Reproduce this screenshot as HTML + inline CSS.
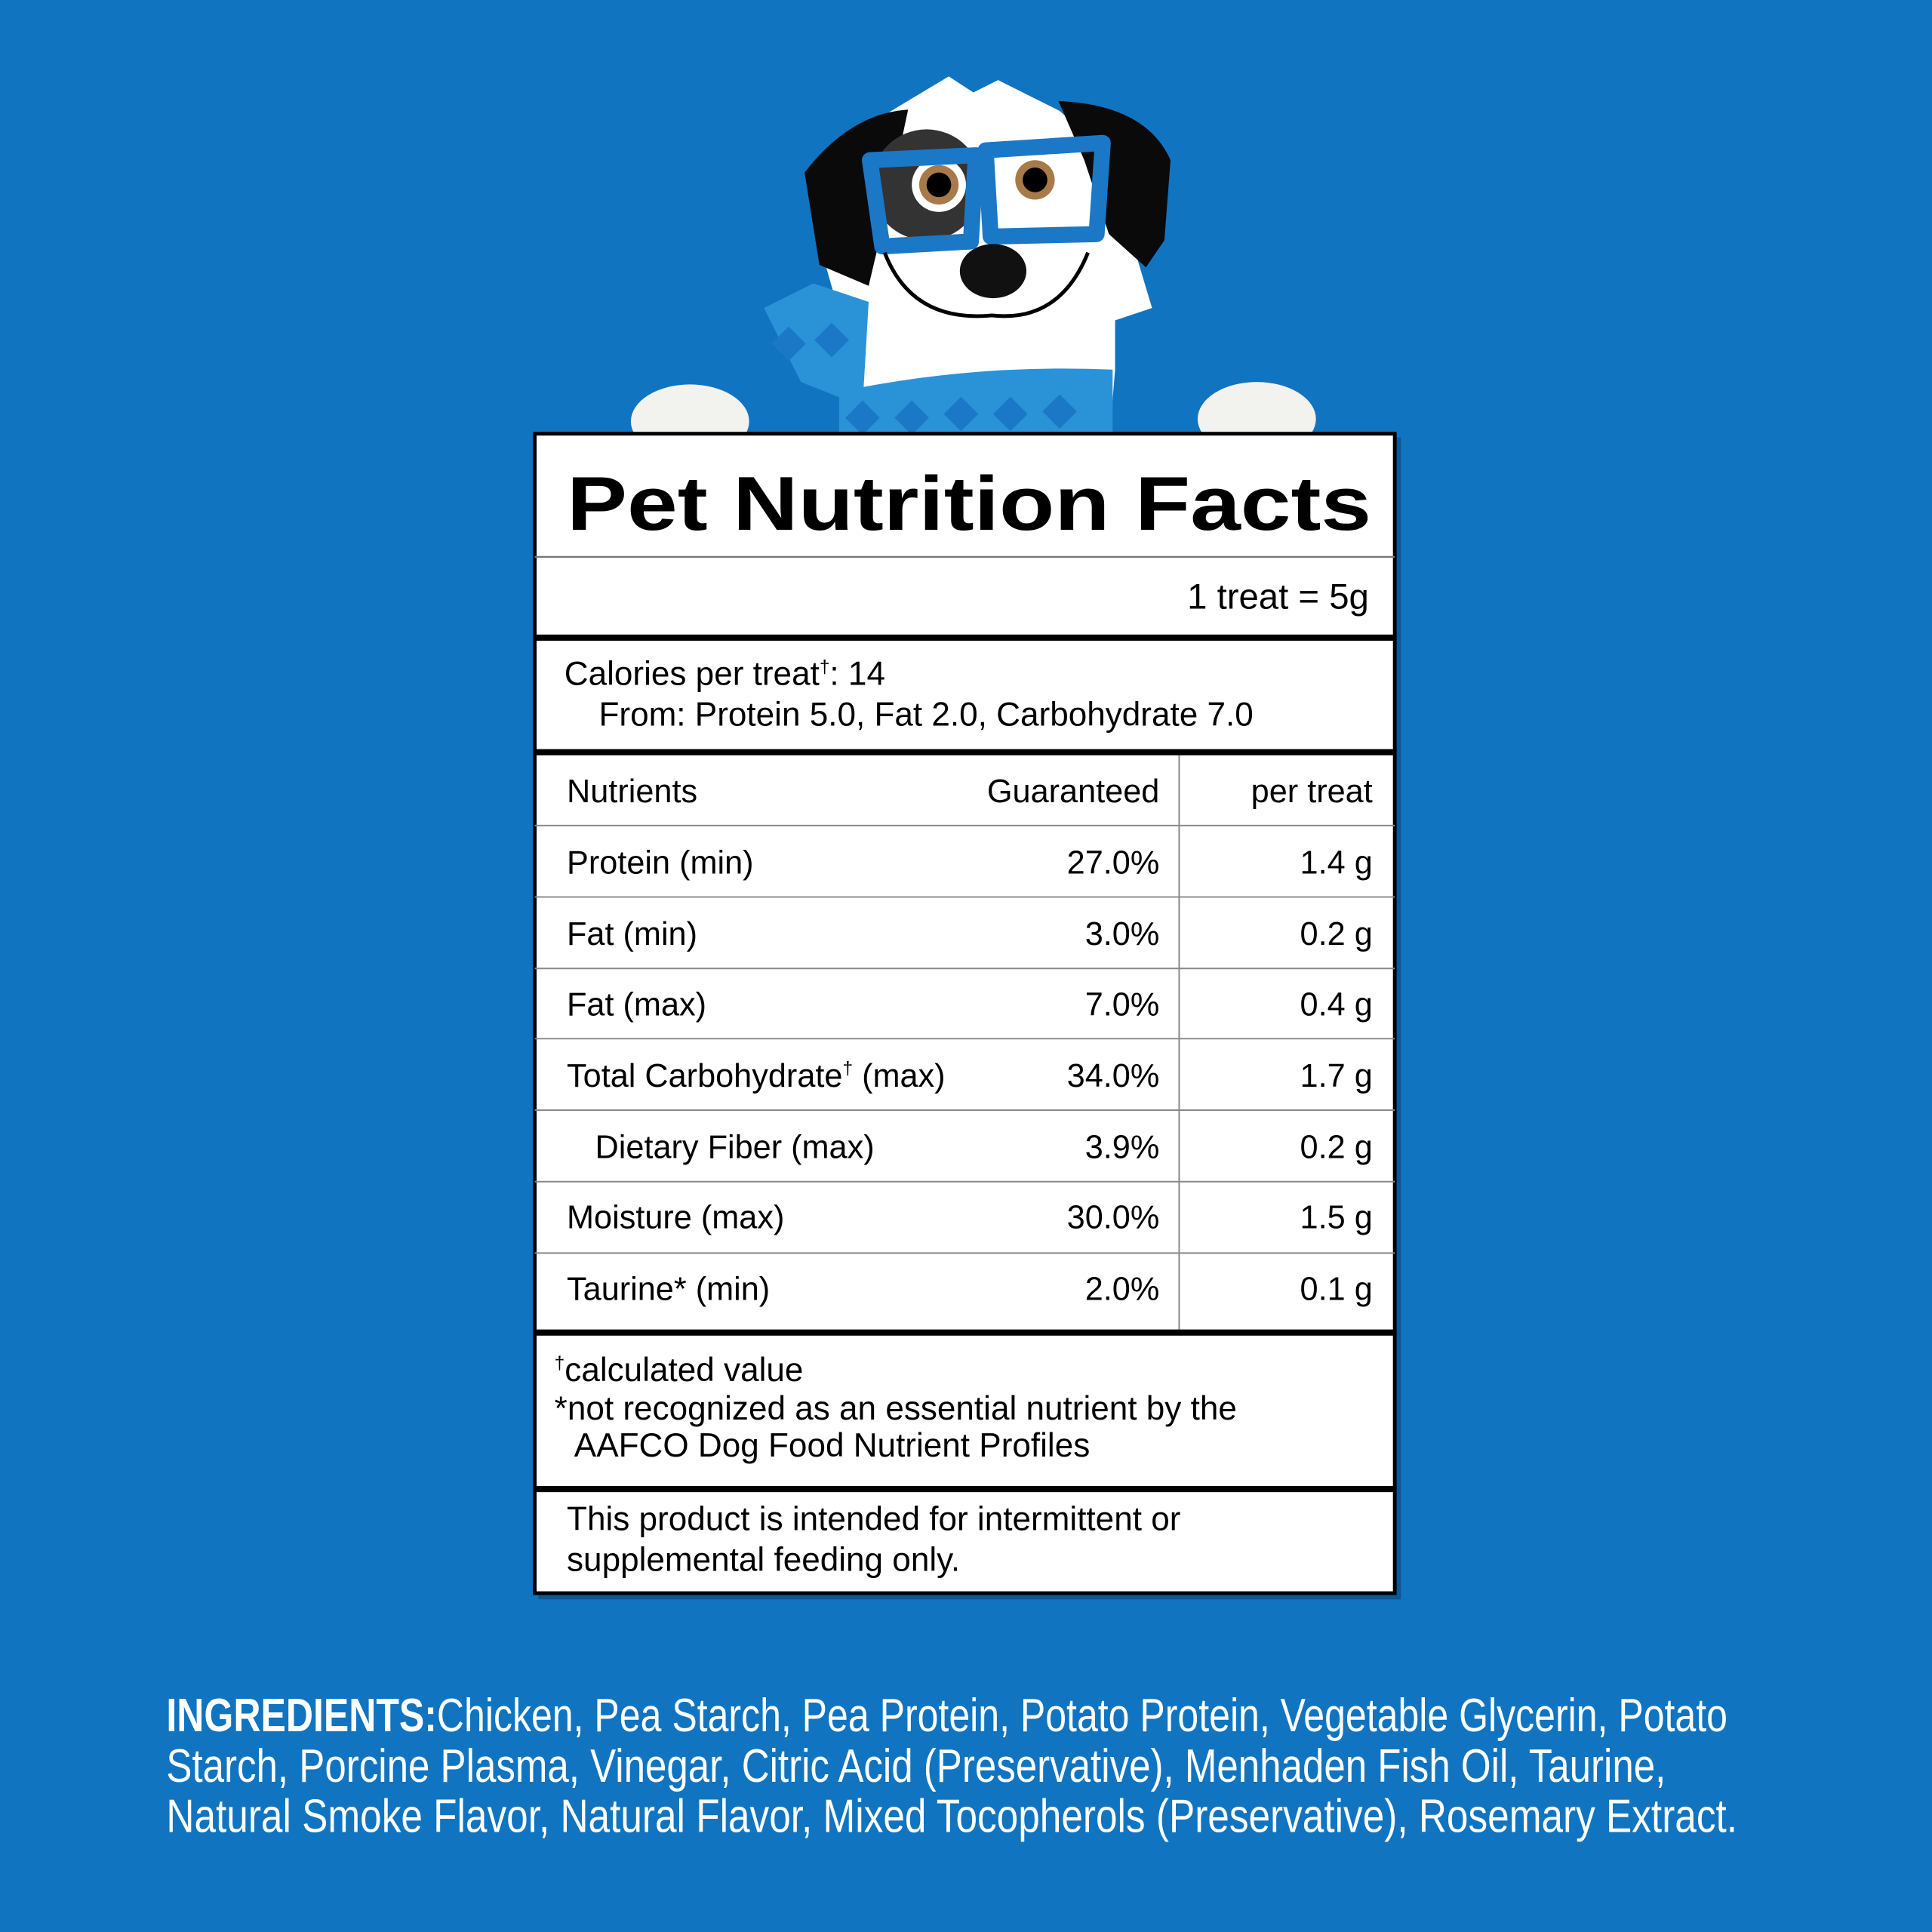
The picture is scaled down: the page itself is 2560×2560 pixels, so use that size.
<!DOCTYPE html>
<html><head><meta charset="utf-8"><style>
html,body{margin:0;padding:0;background:#1174c0;}
svg{display:block;}
text{font-family:"Liberation Sans",Arial,sans-serif;}
</style></head><body>
<svg width="2560" height="2560" viewBox="0 0 1568 1568" xmlns="http://www.w3.org/2000/svg">
<rect width="1568" height="1568" fill="#1174c0"/>
<g>
  <path d="M690 360 L680 250 L660 180 L690 110 L740 80 L770 62 L790 75 L810 65 L860 90 L905 130 L920 200 L935 250 L905 260 L905 300 L900 360 Z" fill="#ffffff"/>
  <path d="M653 140 Q690 92 737 89 L722 160 L705 232 L665 215 Z" fill="#0a0a0a"/>
  <path d="M859 82 Q930 85 950 130 L945 195 L930 217 L900 190 L880 130 Z" fill="#0a0a0a"/>
  <circle cx="752" cy="150" r="45" fill="#333"/>
  <path d="M620 250 L660 230 L705 245 L700 330 L650 310 Z" fill="#2a93d8"/>
  <path d="M681 318 Q790 295 903 300 L903 355 L681 355 Z" fill="#2a93d8"/>
  <g fill="#1a78c6">
    <path d="M700 325 l14 14 -14 14 -14 -14z M740 325 l14 14 -14 14 -14 -14z M780 322 l14 14 -14 14 -14 -14z M820 322 l14 14 -14 14 -14 -14z M860 320 l14 14 -14 14 -14 -14z M640 265 l14 14 -14 14 -14 -14z M675 262 l14 14 -14 14 -14 -14z"/>
  </g>
  <circle cx="762" cy="150" r="22" fill="#fff"/>
  <circle cx="840" cy="146" r="22" fill="#fff"/>
  <circle cx="762" cy="150" r="16" fill="#a87a4a"/>
  <circle cx="840" cy="146" r="16" fill="#a87a4a"/>
  <circle cx="762" cy="150" r="10" fill="#000"/>
  <circle cx="840" cy="146" r="10" fill="#000"/>
  <path d="M706 130 L792 126 L788 196 L716 200 Z" fill="none" stroke="#1a78c6" stroke-width="13" stroke-linejoin="round"/>
  <path d="M800 122 L895 116 L890 190 L804 192 Z" fill="none" stroke="#1a78c6" stroke-width="13" stroke-linejoin="round"/>
  <ellipse cx="806" cy="220" rx="27" ry="22" fill="#111"/>
  <path d="M718 205 Q740 262 805 256 Q860 262 883 205" stroke="#000" stroke-width="3" fill="none"/>
  <ellipse cx="560" cy="342" rx="48" ry="30" fill="#f2f2ee"/>
  <ellipse cx="1020" cy="340" rx="48" ry="30" fill="#f2f2ee"/>
</g>
<rect x="437" y="355" width="700" height="943" fill="#0a3a66" opacity="0.5"/>
<rect x="434" y="352" width="698" height="941" fill="#fff" stroke="#000" stroke-width="3"/>
<text x="460" y="430" font-size="62" font-weight="bold" textLength="653" lengthAdjust="spacingAndGlyphs">Pet Nutrition Facts</text>
<line x1="434" y1="452" x2="1132" y2="452" stroke="#777" stroke-width="1.5"/>
<text x="1111" y="494" font-size="29" text-anchor="end">1 treat = 5g</text>
<rect x="434" y="515" width="698" height="5" fill="#000"/>
<g font-size="27">
<text x="458" y="556">Calories per treat<tspan font-size="15" dy="-10">†</tspan><tspan dy="10">: 14</tspan></text>
<text x="486" y="589">From: Protein 5.0, Fat 2.0, Carbohydrate 7.0</text>
</g>
<rect x="434" y="608" width="698" height="5" fill="#000"/>
<g font-size="26.5">
<text x="460" y="651">Nutrients</text><text x="941" y="651" text-anchor="end">Guaranteed</text><text x="1114" y="651" text-anchor="end">per treat</text>
<text x="460" y="709">Protein (min)</text><text x="941" y="709" text-anchor="end">27.0%</text><text x="1114" y="709" text-anchor="end">1.4 g</text>
<text x="460" y="767">Fat (min)</text><text x="941" y="767" text-anchor="end">3.0%</text><text x="1114" y="767" text-anchor="end">0.2 g</text>
<text x="460" y="824">Fat (max)</text><text x="941" y="824" text-anchor="end">7.0%</text><text x="1114" y="824" text-anchor="end">0.4 g</text>
<text x="460" y="882">Total Carbohydrate<tspan font-size="15" dy="-10">†</tspan><tspan dy="10"> (max)</tspan></text><text x="941" y="882" text-anchor="end">34.0%</text><text x="1114" y="882" text-anchor="end">1.7 g</text>
<text x="483" y="940">Dietary Fiber (max)</text><text x="941" y="940" text-anchor="end">3.9%</text><text x="1114" y="940" text-anchor="end">0.2 g</text>
<text x="460" y="997">Moisture (max)</text><text x="941" y="997" text-anchor="end">30.0%</text><text x="1114" y="997" text-anchor="end">1.5 g</text>
<text x="460" y="1055">Taurine* (min)</text><text x="941" y="1055" text-anchor="end">2.0%</text><text x="1114" y="1055" text-anchor="end">0.1 g</text>
</g>
<g stroke="#888" stroke-width="1.2">
<line x1="434" y1="670" x2="1132" y2="670"/><line x1="434" y1="728" x2="1132" y2="728"/>
<line x1="434" y1="786" x2="1132" y2="786"/><line x1="434" y1="843" x2="1132" y2="843"/>
<line x1="434" y1="901" x2="1132" y2="901"/><line x1="434" y1="959" x2="1132" y2="959"/>
<line x1="434" y1="1017" x2="1132" y2="1017"/><line x1="957" y1="613" x2="957" y2="1080"/>
</g>
<rect x="434" y="1079" width="698" height="5" fill="#000"/>
<g font-size="27">
<text x="450" y="1121"><tspan font-size="15" dy="-10">†</tspan><tspan dy="10">calculated value</tspan></text>
<text x="450" y="1152">*not recognized as an essential nutrient by the</text>
<text x="466" y="1182">AAFCO Dog Food Nutrient Profiles</text>
<text x="460" y="1242">This product is intended for intermittent or</text>
<text x="460" y="1275">supplemental feeding only.</text>
</g>
<rect x="434" y="1206" width="698" height="5" fill="#000"/>
<g fill="#fff" font-size="38">
<text x="135" y="1405" textLength="1267" lengthAdjust="spacingAndGlyphs"><tspan font-weight="bold">INGREDIENTS:</tspan>Chicken, Pea Starch, Pea Protein, Potato Protein, Vegetable Glycerin, Potato</text>
<text x="135" y="1446" textLength="1217" lengthAdjust="spacingAndGlyphs">Starch, Porcine Plasma, Vinegar, Citric Acid (Preservative), Menhaden Fish Oil, Taurine,</text>
<text x="135" y="1487" textLength="1275" lengthAdjust="spacingAndGlyphs">Natural Smoke Flavor, Natural Flavor, Mixed Tocopherols (Preservative), Rosemary Extract.</text>
</g>
</svg>
</body></html>
